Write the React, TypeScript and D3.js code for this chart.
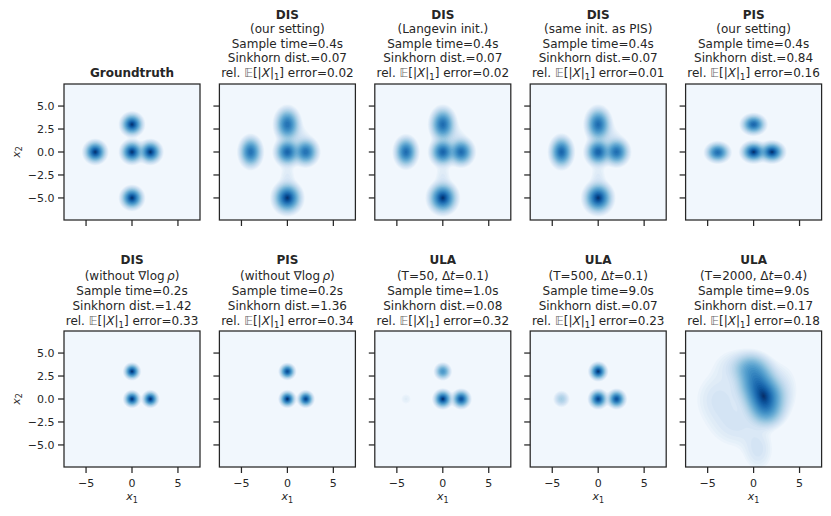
import React, { useMemo } from 'react'
import * as d3 from 'd3'

// each blob: [cx, cy, sx, sy, peak height]
type Blob = [number, number, number, number, number]

const groundtruth: Blob[] = [
  [-4, 0, 0.5, 0.5, 1], [0, 3, 0.5, 0.5, 1], [0, 0, 0.5, 0.5, 1],
  [2, 0, 0.5, 0.5, 1], [0, -5, 0.5, 0.5, 1],
]
const disOurs: Blob[] = [
  [-4, 0, 0.53, 0.72, 0.72], [0, 3, 0.58, 0.78, 0.72], [0, 0, 0.58, 0.62, 0.8],
  [2, 0, 0.58, 0.62, 0.72], [0, -5, 0.65, 0.7, 1], [1.2, 1.6, 0.8, 0.8, 0.035], [0, -2.6, 0.55, 0.8, 0.03],
]
const disLangevin: Blob[] = [
  [-4, 0, 0.53, 0.7, 0.75], [0, 3, 0.58, 0.78, 0.75], [0, 0, 0.58, 0.62, 0.8],
  [2, 0, 0.58, 0.62, 0.75], [0, -5, 0.65, 0.7, 1], [1.2, 1.6, 0.8, 0.8, 0.035], [0, -2.6, 0.55, 0.8, 0.03],
]
const disPisInit: Blob[] = [
  [-4, 0, 0.53, 0.72, 0.8], [0, 3, 0.58, 0.78, 0.75], [0, 0, 0.58, 0.62, 0.82],
  [2, 0, 0.58, 0.62, 0.74], [0, -5, 0.65, 0.7, 1], [1.2, 1.6, 0.8, 0.8, 0.035], [0, -2.6, 0.55, 0.8, 0.03],
]
const pisOurs: Blob[] = [
  [-3.9, -0.05, 0.55, 0.45, 0.7], [0, 3, 0.55, 0.45, 0.75],
  [0, 0, 0.55, 0.45, 0.95], [2, 0, 0.55, 0.45, 0.95],
]
const disNoGrad: Blob[] = [
  [0, 3, 0.34, 0.34, 1], [0, 0, 0.34, 0.34, 1], [2, 0, 0.34, 0.34, 1],
]
const pisNoGrad: Blob[] = [
  [0, 3, 0.34, 0.33, 0.92], [0, 0, 0.34, 0.34, 1], [2, 0, 0.34, 0.34, 0.95],
]
const ula50: Blob[] = [
  [-4, 0, 0.45, 0.45, 0.025], [0, 3, 0.38, 0.38, 0.45], [0, 0, 0.4, 0.4, 1], [2, 0, 0.4, 0.4, 0.9],
]
const ula500: Blob[] = [
  [-4, 0, 0.42, 0.42, 0.13], [0, 3, 0.38, 0.38, 1], [0, 0, 0.4, 0.4, 0.95], [2, 0, 0.4, 0.4, 0.9],
]
const ula2000: Blob[] = [
  [1.2, 0.2, 1.0, 1.05, 0.8], [0.3, 1.9, 1.0, 1.1, 0.55], [-0.4, 3.4, 0.95, 0.8, 0.25],
  [1.4, -1.3, 0.9, 0.85, 0.3], [-3.8, 0.0, 1.6, 1.8, 0.04], [-1.8, -3.0, 1.8, 1.5, 0.035],
  [0.5, -5.6, 1.0, 1.4, 0.04], [-2.2, 3.6, 1.4, 1.2, 0.03], [3.2, 1.2, 1.1, 1.8, 0.03],
]

const panels = [groundtruth, disOurs, disLangevin, disPisInit, pisOurs, disNoGrad, pisNoGrad, ula50, ula500, ula2000]

const methods = ['Groundtruth', 'DIS', 'DIS', 'DIS', 'PIS', 'DIS', 'PIS', 'ULA', 'ULA', 'ULA']
// setting line: segments of [text, italic?]
const settings: [string, boolean][][] = [
  [],
  [['(our setting)', false]],
  [['(Langevin init.)', false]],
  [['(same init. as PIS)', false]],
  [['(our setting)', false]],
  [['(without \u2207log\u2009', false], ['\u03C1', true], [')', false]],
  [['(without \u2207log\u2009', false], ['\u03C1', true], [')', false]],
  [['(T=50, \u0394', false], ['t', true], ['=0.1)', false]],
  [['(T=500, \u0394', false], ['t', true], ['=0.1)', false]],
  [['(T=2000, \u0394', false], ['t', true], ['=0.4)', false]],
]
const sampleTimes = [null, 0.4, 0.4, 0.4, 0.4, 0.2, 0.2, 1.0, 9.0, 9.0]
const sinkhorn = [null, 0.07, 0.07, 0.07, 0.84, 1.42, 1.36, 0.08, 0.07, 0.17]
const relErrors = [null, 0.02, 0.02, 0.01, 0.16, 0.33, 0.34, 0.32, 0.23, 0.18]

const xTicks = [-5, 0, 5]
const yTicks = [-5, -2.5, 0, 2.5, 5]

const W = 831
const H = 516
const DOMAIN: [number, number] = [-7.4, 7.4]
const SIZE = 136
const LEFT0 = 64
const STEP = 155.4
const ROW_TOP = [84, 331]
const ROW_LINE = [14.4, 15.2]
const ROW_LAST_BASE = [76.5, 325.2]
const N = 150
const LEVELS = 34
const CONE = 3 // colour falls linearly with distance (in sigmas) out to CONE
const CMAP_START = 0.03
const INK = '#262626'
const FONT = '"DejaVu Sans", sans-serif'

function grid(blobs: Blob[]) {
  const vals = new Float64Array(N * N)
  const d = (DOMAIN[1] - DOMAIN[0]) / N
  let max = 0
  for (let j = 0; j < N; j++) {
    const y = DOMAIN[1] - (j + 0.5) * d
    for (let i = 0; i < N; i++) {
      const x = DOMAIN[0] + (i + 0.5) * d
      let v = 0
      for (const [cx, cy, sx, sy, a] of blobs) {
        v += a * Math.exp(-((x - cx) ** 2) / (2 * sx * sx) - ((y - cy) ** 2) / (2 * sy * sy))
      }
      vals[j * N + i] = v
      if (v > max) max = v
    }
  }
  for (let k = 0; k < vals.length; k++) vals[k] /= max
  return Array.from(vals)
}

// density value at which colour level c starts
const levelToDensity = (c: number) => (c <= 0 ? 0 : Math.exp(-(((1 - c) * CONE) ** 2) / 2))

const fmt = (v: number, n: number) => v.toFixed(n)
const minus = (s: string) => s.replace('-', '\u2212')

function Panel({ idx }: { idx: number }) {
  const row = idx < 5 ? 0 : 1
  const col = idx % 5
  const left = LEFT0 + col * STEP
  const top = ROW_TOP[row]
  const x = d3.scaleLinear().domain(DOMAIN).range([left, left + SIZE])
  const y = d3.scaleLinear().domain(DOMAIN).range([top + SIZE, top])

  const paths = useMemo(() => {
    const vals = grid(panels[idx])
    const levels = d3.range(LEVELS).map((k) => k / LEVELS)
    const cs = d3.contours().size([N, N]).thresholds(levels.map(levelToDensity))(vals)
    const d = (DOMAIN[1] - DOMAIN[0]) / N
    const proj = d3.geoTransform({
      point(px: number, py: number) {
        this.stream.point(x(DOMAIN[0] + px * d), y(DOMAIN[1] - py * d))
      },
    })
    const gp = d3.geoPath(proj)
    const color = (k: number) => d3.interpolateBlues(CMAP_START + (1 - CMAP_START) * (k / (LEVELS - 1)))
    return cs.map((c, k) => ({ d: gp(c as any) || '', fill: color(k) }))
  }, [idx])

  const cx = left + SIZE / 2
  const lines: React.ReactNode[] = []
  lines.push(<tspan fontWeight="bold">{methods[idx]}</tspan>)
  if (idx > 0) {
    lines.push(<>{settings[idx].map(([t, it], k) => <tspan key={k} fontStyle={it ? 'italic' : 'normal'}>{t}</tspan>)}</>)
    lines.push(<>Sample time={fmt(sampleTimes[idx] as number, 1)}s</>)
    lines.push(<>Sinkhorn dist.={fmt(sinkhorn[idx] as number, 2)}</>)
    lines.push(
      <>
        rel. <tspan fill="#666">{'\uD835\uDD3C'}</tspan>[|<tspan fontStyle="italic">X</tspan>|<tspan dy={3} fontSize={8.5}>1</tspan>
        <tspan dy={-3}>] error={fmt(relErrors[idx] as number, 2)}</tspan>
      </>
    )
  }
  const nLines = lines.length

  return (
    <g>
      <clipPath id={`clip${idx}`}>
        <rect x={left} y={top} width={SIZE} height={SIZE} />
      </clipPath>
      <g clipPath={`url(#clip${idx})`}>
        {paths.map((p, k) => <path key={k} d={p.d} fill={p.fill} stroke="none" />)}
      </g>
      <rect x={left} y={top} width={SIZE} height={SIZE} fill="none" stroke={INK} strokeWidth={1.25} />
      {xTicks.map((t) => (
        <g key={`x${t}`}>
          <line x1={x(t)} x2={x(t)} y1={top + SIZE} y2={top + SIZE + 6} stroke={INK} strokeWidth={1.25} />
          {row === 1 && (
            <text x={x(t)} y={top + SIZE + 20} textAnchor="middle" fontSize={11} fill={INK}>{minus(String(t))}</text>
          )}
        </g>
      ))}
      {yTicks.map((t) => (
        <g key={`y${t}`}>
          <line x1={left - 6} x2={left} y1={y(t)} y2={y(t)} stroke={INK} strokeWidth={1.25} />
          {col === 0 && (
            <text x={left - 9.5} y={y(t) + 4} textAnchor="end" fontSize={11} fill={INK}>{minus(t.toFixed(1))}</text>
          )}
        </g>
      ))}
      {row === 1 && (
        <text x={cx} y={top + SIZE + 33} textAnchor="middle" fontSize={11} fill={INK}>
          <tspan fontStyle="italic">x</tspan><tspan dy={2.5} fontSize={8}>1</tspan>
        </text>
      )}
      {col === 0 && (
        <text transform={`translate(${19.5},${top + SIZE / 2}) rotate(-90)`} textAnchor="middle" fontSize={11} fill={INK}>
          <tspan fontStyle="italic">x</tspan><tspan dy={2.5} fontSize={8}>2</tspan>
        </text>
      )}
      {lines.map((ln, k) => (
        <text key={k} x={cx} y={ROW_LAST_BASE[row] - (nLines - 1 - k) * ROW_LINE[row]} textAnchor="middle" fontSize={12} fill={INK}>
          {ln}
        </text>
      ))}
    </g>
  )
}

export default function App() {
  return (
    <svg width={W} height={H} style={{ position: 'absolute', left: 0, top: 0, background: '#fff' }} fontFamily={FONT}>
      {panels.map((_, i) => <Panel key={i} idx={i} />)}
    </svg>
  )
}
